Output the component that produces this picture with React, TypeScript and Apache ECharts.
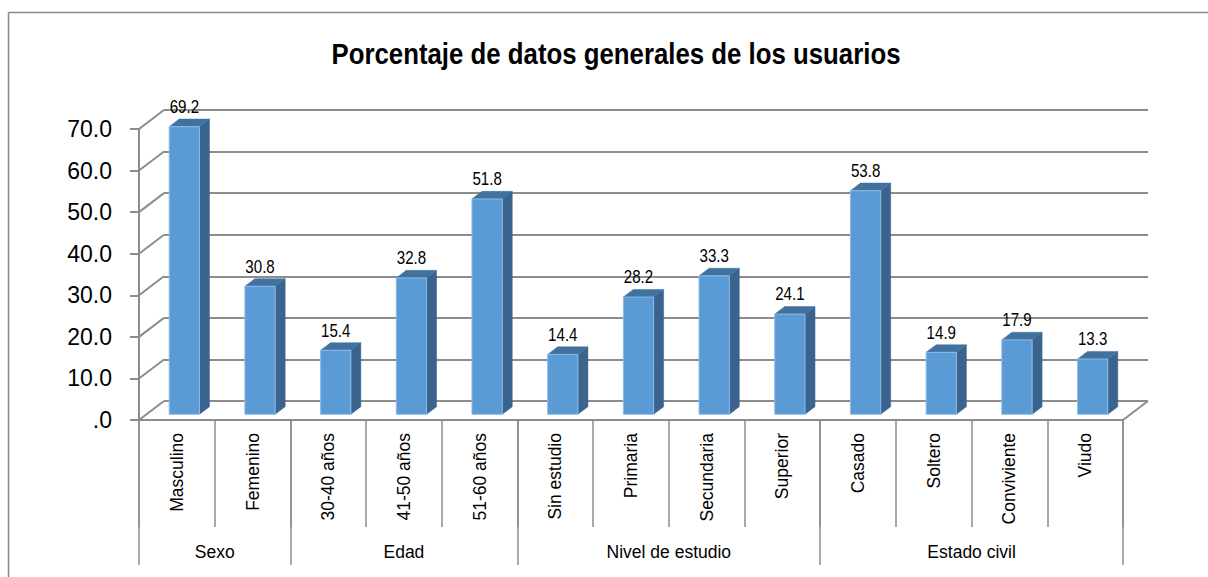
import React, { useEffect, useRef } from "react";
import * as echarts from "echarts";

const categories = [
  "Masculino", "Femenino", "30-40 años", "41-50 años", "51-60 años",
  "Sin estudio", "Primaria", "Secundaria", "Superior",
  "Casado", "Soltero", "Conviviente", "Viudo",
];
const values = [69.2, 30.8, 15.4, 32.8, 51.8, 14.4, 28.2, 33.3, 24.1, 53.8, 14.9, 17.9, 13.3];
const groupNames = ["Sexo", "Edad", "Nivel de estudio", "Estado civil"];
const groupSizes = [2, 3, 4, 4];
const yMin = 0;
const yMax = 70;
const yStep = 10;
const titleText = "Porcentaje de datos generales de los usuarios";

const FONT = "'Liberation Sans', Arial, sans-serif";
const GRID_COLOR = "#8c8c8c";
const DEPTH = [25, -19];
const FRONT = 0.3;
const BACK = 0.7;
const BAR_FRAC = 0.4;

export default function App() {
  const ref = useRef<HTMLDivElement>(null);
  useEffect(() => {
    document.body.style.margin = "0";
    document.body.style.overflow = "hidden";
    if (!ref.current) return;
    const chart = echarts.init(ref.current, null, { renderer: "svg" });

    const boundaries: number[] = [0];
    groupSizes.forEach((s) => boundaries.push(boundaries[boundaries.length - 1] + s));
    const groupCenters = groupSizes.map((s, i) => boundaries[i] + s / 2);
    const yTicks: number[] = [];
    for (let v = yMin; v <= yMax; v += yStep) yTicks.push(v);

    const frameData = yTicks.map((v) => [0, v]).concat([[categories.length, 0]]);

    const option: any = {
      animation: false,
      backgroundColor: "#ffffff",
      graphic: [
        {
          type: "line",
          shape: { x1: 8.5, y1: 12.5, x2: 1208, y2: 12.5 },
          style: { stroke: "#878787", lineWidth: 1.5 },
          silent: true,
        },
        {
          type: "line",
          shape: { x1: 8.5, y1: 12.5, x2: 8.5, y2: 577 },
          style: { stroke: "#878787", lineWidth: 1.5 },
          silent: true,
        },
        {
          type: "text",
          x: 616,
          y: 39,
          scaleX: 0.86,
          style: {
            text: titleText,
            fontFamily: FONT,
            fontWeight: "bold",
            fontSize: 30,
            fill: "#000",
            align: "center",
            verticalAlign: "top",
          },
          silent: true,
        },
      ],
      grid: [
        { left: 139, right: 85, top: 129, bottom: 157 },
        { left: 139 + DEPTH[0], right: 85 - DEPTH[0], top: 129 + DEPTH[1], bottom: 157 - DEPTH[1] },
      ],
      xAxis: [
        {
          type: "category",
          gridIndex: 0,
          data: categories,
          boundaryGap: true,
          axisLine: { show: true, lineStyle: { color: GRID_COLOR, width: 2 } },
          axisTick: { show: true, interval: 0, length: 107, lineStyle: { color: GRID_COLOR, width: 1.5 } },
          axisLabel: {
            interval: 0,
            rotate: 90,
            margin: 13,
            fontFamily: FONT,
            fontSize: 17.5,
            color: "#000",
          },
          splitLine: { show: false },
        },
        {
          type: "value",
          gridIndex: 0,
          position: "bottom",
          min: 0,
          max: categories.length,
          axisLine: { show: false },
          axisTick: {
            show: true,
            length: 145,
            customValues: boundaries,
            lineStyle: { color: GRID_COLOR, width: 1.5 },
          },
          axisLabel: {
            show: true,
            customValues: groupCenters,
            margin: 123,
            fontFamily: FONT,
            fontSize: 17.5,
            color: "#000",
            formatter: (v: number) => {
              const i = groupCenters.findIndex((c) => Math.abs(c - v) < 1e-6);
              return i >= 0 ? groupNames[i] : "";
            },
          },
          splitLine: { show: false },
        },
        {
          type: "value",
          gridIndex: 1,
          min: 0,
          max: categories.length,
          show: false,
        },
      ],
      yAxis: [
        {
          type: "value",
          gridIndex: 0,
          min: yMin,
          max: yMax,
          interval: yStep,
          axisLine: { show: true, lineStyle: { color: GRID_COLOR, width: 2 } },
          axisTick: { show: true, length: 9, lineStyle: { color: GRID_COLOR, width: 2 } },
          axisLabel: {
            margin: 27,
            fontFamily: FONT,
            fontSize: 23,
            color: "#000",
            formatter: (v: number) => (v === 0 ? ".0" : v.toFixed(1)),
          },
          splitLine: { show: false },
        },
        {
          type: "value",
          gridIndex: 1,
          min: yMin,
          max: yMax,
          interval: yStep,
          axisLine: { show: false },
          axisTick: { show: false },
          axisLabel: { show: false },
          splitLine: { show: true, lineStyle: { color: GRID_COLOR, width: 2 } },
        },
      ],
      series: [
        {
          type: "custom",
          name: "frame",
          xAxisIndex: 1,
          yAxisIndex: 0,
          data: frameData,
          silent: true,
          z: 1,
          renderItem: (params: any, api: any) => {
            const p = api.coord([api.value(0), api.value(1)]);
            return {
              type: "line",
              shape: { x1: p[0], y1: p[1], x2: p[0] + DEPTH[0], y2: p[1] + DEPTH[1] },
              style: { stroke: GRID_COLOR, lineWidth: 2 },
            };
          },
        },
        {
          type: "custom",
          name: "Porcentaje",
          xAxisIndex: 1,
          yAxisIndex: 0,
          data: values.map((v, i) => [i, v]),
          z: 3,
          renderItem: (params: any, api: any) => {
            const i = api.value(0);
            const v = api.value(1);
            const left = api.coord([i + 0.5 - BAR_FRAC / 2, 0]);
            const right = api.coord([i + 0.5 + BAR_FRAC / 2, 0]);
            const top = api.coord([i + 0.5, v]);
            const fx = DEPTH[0] * FRONT, fy = DEPTH[1] * FRONT;
            const bx = DEPTH[0] * BACK, by = DEPTH[1] * BACK;
            const xl = left[0], xr = right[0], yb = left[1], yt = top[1];
            return {
              type: "group",
              children: [
                {
                  type: "polygon",
                  shape: { points: [[xr + fx, yt + fy], [xr + bx, yt + by], [xr + bx, yb + by], [xr + fx, yb + fy]] },
                  style: { fill: "#3a648e", stroke: "#3a648e", lineWidth: 0.5 },
                },
                {
                  type: "polygon",
                  shape: { points: [[xl + fx, yt + fy], [xl + bx, yt + by], [xr + bx, yt + by], [xr + fx, yt + fy]] },
                  style: { fill: "#41729f", stroke: "#41729f", lineWidth: 0.5 },
                },
                {
                  type: "rect",
                  shape: { x: xl + fx, y: yt + fy, width: xr - xl, height: yb - yt },
                  style: { fill: "#5b9bd5", stroke: "#8dbbe6", lineWidth: 1 },
                },
                {
                  type: "text",
                  x: (xl + xr) / 2 + fx,
                  y: yt + by - 3,
                  scaleX: 0.84,
                  style: {
                    text: v.toFixed(1),
                    fontFamily: FONT,
                    fontSize: 18,
                    fill: "#000",
                    align: "center",
                    verticalAlign: "bottom",
                  },
                },
              ],
            };
          },
        },
      ],
    };
    chart.setOption(option);
    return () => chart.dispose();
  }, []);
  return <div ref={ref} style={{ width: 1208, height: 577 }} />;
}
